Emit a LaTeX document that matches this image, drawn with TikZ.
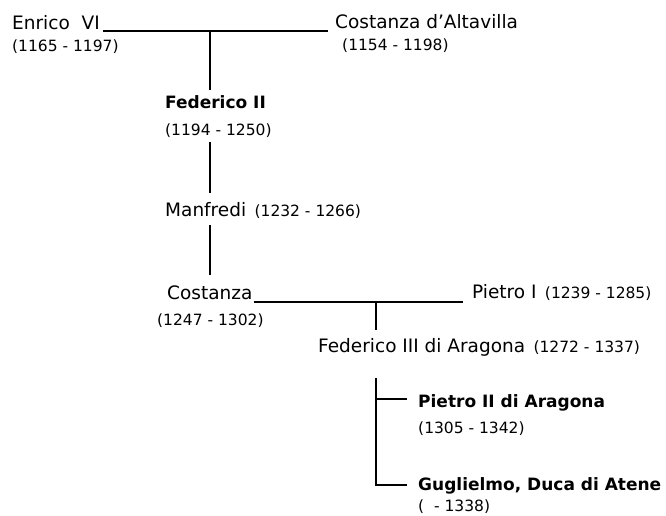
\documentclass[tikz,border=0pt]{standalone}
\usepackage{fontspec}
\setmainfont{DejaVu Sans}
\usepackage{tikz}
\usetikzlibrary{positioning, calc}

\begin{document}
\begin{tikzpicture}[
        x=1pt, y=-1pt,
        node distance=8pt,
        every node/.style={inner sep=0pt, anchor=base west},
        person/.style={font=\fontsize{18.5}{20}\selectfont},
        bperson/.style={font=\fontsize{17}{19}\selectfont\bfseries},
        years/.style={font=\fontsize{15.5}{17}\selectfont},
        link/.style={line width=1.7pt}
    ]
        \useasboundingbox[fill=white] (0,0) rectangle (666,515);
        % first couple
        \node[person] (enrico) at (12,29) {Enrico~~VI};
        \node[years] (enricoy) at (12,51) {(1165 - 1197)};
        \node[person] (altavilla) at (335,28) {Costanza d'Altavilla};
        \node[years] (altavillay) at (342,50) {(1154 - 1198)};
        \draw[link] ($(enrico.base east)+(3,2)$) -- ($(enrico.base east -| altavilla.west)+(-7,2)$);
        \coordinate (c1) at (210,31);
        % line of descent
        \node[bperson] (fed2) at (165,108) {Federico II};
        \node[years] (fed2y) at (165,135) {(1194 - 1250)};
        \node[person] (manfredi) at (165,216) {Manfredi};
        \node[years, base right=of manfredi] (manfrediy) {(1232 - 1266)};
        \node[person] (costanza) at (167,299) {Costanza};
        \node[years] (costanzay) at (157,325) {(1247 - 1302)};
        \draw[link] (c1) -- ($(c1 |- fed2.base)+(0,-18)$);
        \draw[link] ($(c1 |- fed2y.base)+(0,7)$) -- ($(c1 |- manfredi.base)+(0,-23)$);
        \draw[link] ($(c1 |- manfredi.base)+(0,9)$) -- ($(c1 |- costanza.base)+(0,-24)$);
        % second couple
        \node[person] (pietro1) at (472,298) {Pietro I};
        \node[years, base right=of pietro1] (pietro1y) {(1239 - 1285)};
        \draw[link] ($(costanza.base east)+(1,3)$) -- ($(costanza.base east -| pietro1.west)+(-9,3)$);
        \coordinate (c2) at (376,302);
        \node[person] (fed3) at (318,352) {Federico III di Aragona};
        \node[years, base right=of fed3] (fed3y) {(1272 - 1337)};
        \draw[link] (c2) -- ($(c2 |- fed3.base)+(0,-22)$);
        % children
        \node[bperson] (pietro2) at (418,407) {Pietro II di Aragona};
        \node[years] (pietro2y) at (418,433) {(1305 - 1342)};
        \node[bperson] (guglielmo) at (418,490) {Guglielmo, Duca di Atene};
        \node[years] (guglielmoy) at (418,511) {(~~- 1338)};
        \draw[link] ($(c2 |- fed3.base)+(0,26)$) -- ($(c2 |- guglielmo.base)+(0,-5)$) -- ($(guglielmo.base west)+(-11,-5)$);
        \draw[link] ($(c2 |- pietro2.base)+(0,-8)$) -- ($(pietro2.base west)+(-11,-8)$);
    \end{tikzpicture}
\end{document}
